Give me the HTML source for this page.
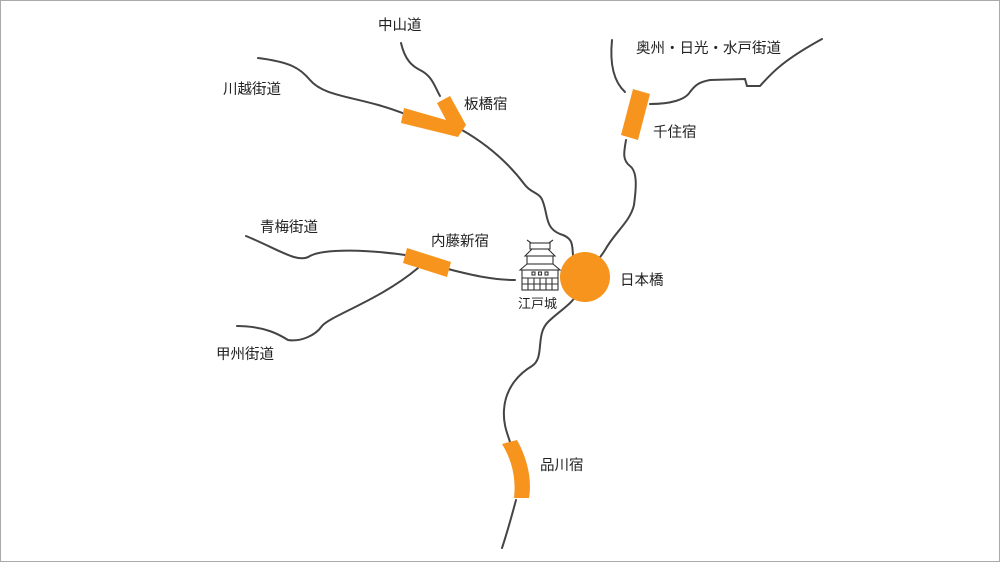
<!DOCTYPE html>
<html><head><meta charset="utf-8"><style>
html,body{margin:0;padding:0;background:#fff}
svg{display:block}
text{font-family:"Liberation Sans","Noto Sans CJK JP",sans-serif;font-size:14.5px;fill:#222}
</style></head><body>
<svg width="1000" height="562" viewBox="0 0 1000 562">
<rect x="0.5" y="0.5" width="999" height="561" fill="#fff" stroke="#aaa"/>
<g fill="none" stroke="#444" stroke-width="2" stroke-linecap="round">
<path d="M401,43 C405,60 412,66 420,70 C432,76 434,85 440,96"/>
<path d="M258,58 C290,62 300,68 310,80 C325,98 360,96 405,114"/>
<path d="M462,130 C490,146 510,165 525,185 C532,194 540,192 543,202 C548,215 545,228 560,234 C574,238 572,246 573,255"/>
<path d="M612,40 C610,60 612,80 625,92"/>
<path d="M650,104 C670,104 685,100 690,92 C696,84 700,82 710,80 L745,79 L747,86 L760,86 C770,75 780,62 822,39"/>
<path d="M626,140 C624,152 622,160 630,166 C638,172 636,190 634,205 C630,222 615,232 605,250 C600,258 598,260 592,263"/>
<path d="M246,236 C280,250 298,264 310,256 C325,248 370,250 405,255"/>
<path d="M448,269 C475,276 495,280 515,280"/>
<path d="M237,326 C265,326 280,335 288,340 C300,342 315,336 322,326 C330,316 380,300 418,268"/>
<path d="M578,290 C576,302 560,310 548,322 C535,335 545,358 532,366 C515,376 505,392 504,410 C503,425 508,435 510,442"/>
<path d="M516,500 C512,515 508,530 502,548"/>
</g>
<g fill="#f7941d">
<polygon points="404,108 401,123 458,137 466,125 450,96 437,103 446,120"/>
<polygon points="633,89 650,94 638,140 621,135"/>
<polygon points="407,248 451,262 447,277 403,263"/>
<circle cx="585" cy="277" r="25"/>
<path d="M502,444 L517,440 C528,460 532,480 529,498 L514,498 C516,480 513,462 502,444 Z"/>
</g>
<g fill="none" stroke="#333" stroke-width="1.1">
<path d="M531,243 L527,240 M549,243 L553,240"/>
<rect x="530" y="243" width="20" height="6"/>
<path d="M525,256 L532,249 L548,249 L555,256 Z"/>
<rect x="527" y="256" width="26" height="8"/>
<path d="M520,270 L527,264 L553,264 L560,270 Z"/>
<rect x="522" y="270" width="36" height="20"/>
<path d="M522,278 L558,278 M522,284 L558,284 M528,278 L528,290 M534,278 L534,290 M540,278 L540,290 M546,278 L546,290 M552,278 L552,290"/>
<rect x="532" y="272" width="3" height="3"/><rect x="538.5" y="272" width="3" height="3"/><rect x="545" y="272" width="3" height="3"/>
</g>
<text x="378" y="30">中山道</text>
<text x="223" y="94">川越街道</text>
<text x="464" y="109">板橋宿</text>
<text x="636" y="53">奥州・日光・水戸街道</text>
<text x="653" y="137">千住宿</text>
<text x="260" y="232">青梅街道</text>
<text x="431" y="246">内藤新宿</text>
<text x="620" y="285">日本橋</text>
<text x="518" y="308" style="font-size:13px">江戸城</text>
<text x="216" y="359">甲州街道</text>
<text x="540" y="470">品川宿</text>
</svg>
</body></html>
